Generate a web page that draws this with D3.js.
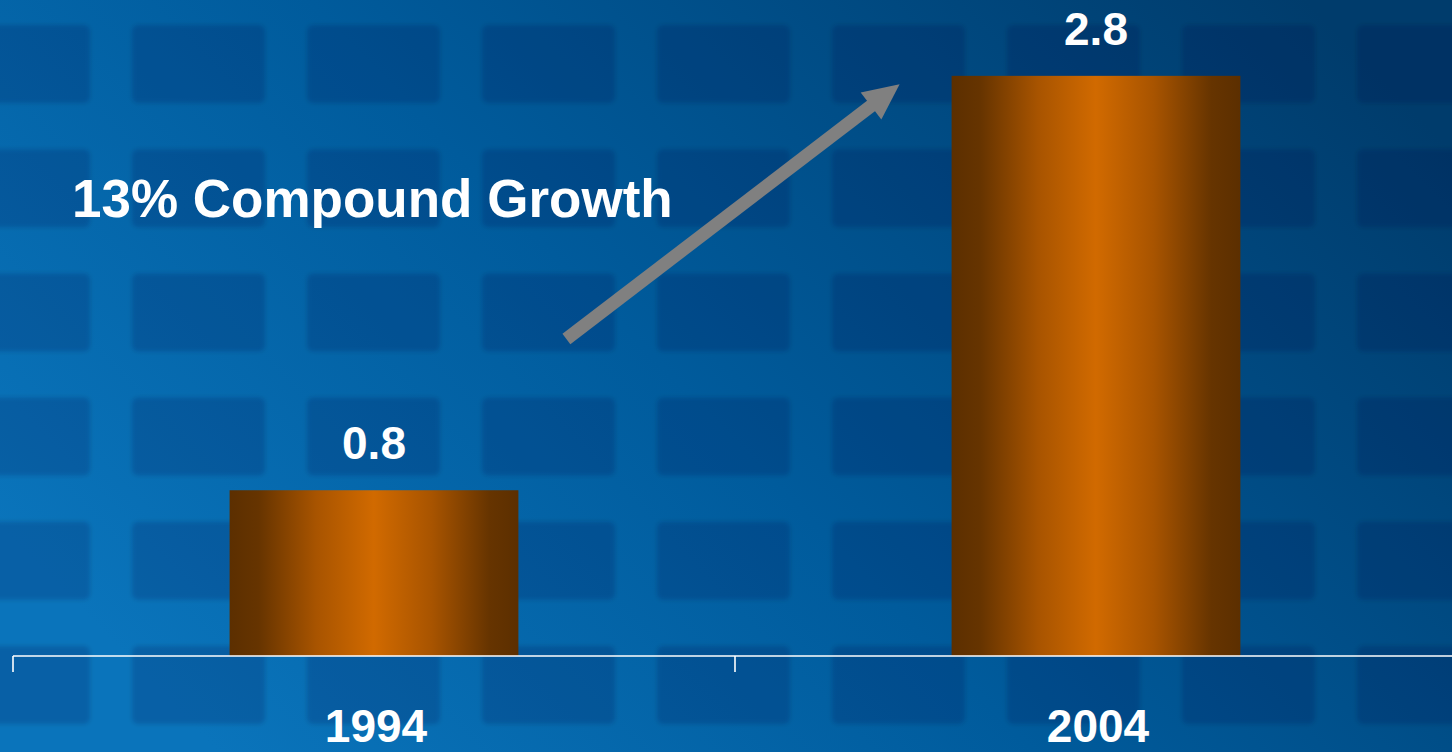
<!DOCTYPE html>
<html>
<head>
<meta charset="utf-8">
<script src="https://cdn.jsdelivr.net/npm/d3@7"></script>
<style>
  html, body { margin: 0; padding: 0; overflow: hidden; background: #004a85; }
  svg { display: block; font-family: "Liberation Sans", Arial, sans-serif; }
</style>
</head>
<body>
<div id="chart"></div>
<script>
const years = ["1994", "2004"];
const values = [0.8, 2.8];
const growthLabel = "13% Compound Growth";

const width = 1452;
const height = 752;

const svg = d3.select("#chart").append("svg").attr("width", width).attr("height", height);
const defs = svg.append("defs");

// blue backdrop, lighter at the left
const bg = defs.append("linearGradient").attr("id", "bg").attr("x1", 0).attr("y1", 0.7).attr("x2", 1).attr("y2", 0.2);
bg.append("stop").attr("offset", 0).attr("stop-color", "#0a74bb");
bg.append("stop").attr("offset", 0.45).attr("stop-color", "#005b9c");
bg.append("stop").attr("offset", 1).attr("stop-color", "#003c6c");

const barGrad = defs.append("linearGradient").attr("id", "bar").attr("x1", 0).attr("x2", 1).attr("y1", 0).attr("y2", 0);
[
  [0, "#5c2f00"],
  [0.1, "#663400"],
  [0.3, "#a85400"],
  [0.5, "#d16a00"],
  [0.7, "#a85400"],
  [0.9, "#663400"],
  [1, "#5c2f00"],
].forEach(([o, c]) => barGrad.append("stop").attr("offset", o).attr("stop-color", c));

defs.append("filter").attr("id", "soft").append("feGaussianBlur").attr("stdDeviation", 2);

svg.append("rect").attr("width", width).attr("height", height).attr("fill", "url(#bg)");

// tiled pattern behind the chart
const tileCols = d3.range(-43, width, 175);
const tileRows = d3.range(25, height, 124.2);
svg
  .append("g")
  .attr("filter", "url(#soft)")
  .selectAll("rect")
  .data(d3.cross(tileCols, tileRows))
  .join("rect")
  .attr("x", (d) => d[0])
  .attr("y", (d) => d[1])
  .attr("width", 133)
  .attr("height", 78)
  .attr("rx", 6)
  .attr("fill", "#001a40")
  .attr("fill-opacity", 0.17);

const x = d3.scaleBand().domain(years).range([13, 1457]).paddingInner(0.6).paddingOuter(0.3);
const y = d3.scaleLinear().domain([0, 3]).range([656, 34.4]);

const data = years.map((year, i) => ({ year, value: values[i] }));

svg
  .append("g")
  .selectAll("rect")
  .data(data)
  .join("rect")
  .attr("x", (d) => x(d.year))
  .attr("y", (d) => y(d.value))
  .attr("width", x.bandwidth())
  .attr("height", (d) => y(0) - y(d.value))
  .attr("fill", "url(#bar)");

svg
  .append("g")
  .selectAll("text")
  .data(data)
  .join("text")
  .attr("x", (d) => x(d.year) + x.bandwidth() / 2)
  .attr("y", (d) => y(d.value) - 31)
  .attr("text-anchor", "middle")
  .attr("fill", "#ffffff")
  .attr("font-size", 46)
  .attr("font-weight", "bold")
  .text((d) => d.value.toFixed(1));

// axis with ticks at the category boundaries
const axis = svg.append("g").attr("stroke", "#ffffff").attr("stroke-width", 1.6);
axis.append("line").attr("x1", x.range()[0]).attr("x2", x.range()[1]).attr("y1", y(0)).attr("y2", y(0));
const edges = years.map((d) => x(d) - (x.step() * x.paddingInner()) / 2).concat([x.range()[1]]);
axis
  .selectAll("line.tick")
  .data(edges)
  .join("line")
  .attr("class", "tick")
  .attr("x1", (d) => d)
  .attr("x2", (d) => d)
  .attr("y1", y(0))
  .attr("y2", y(0) + 16);

svg
  .append("g")
  .selectAll("text")
  .data(years)
  .join("text")
  .attr("x", (d) => x(d) + x.bandwidth() / 2 + 2)
  .attr("y", 742)
  .attr("text-anchor", "middle")
  .attr("fill", "#ffffff")
  .attr("font-size", 46)
  .attr("font-weight", "bold")
  .text((d) => d);

// growth arrow
const start = [x(years[0]) + x.bandwidth() + 48, y(1.53)];
const end = [x(years[1]) - 52, y(2.76)];
const ang = Math.atan2(end[1] - start[1], end[0] - start[0]);
const headLen = 36;
const headHalf = 17;
const neck = [end[0] - headLen * Math.cos(ang), end[1] - headLen * Math.sin(ang)];
const px = -Math.sin(ang);
const py = Math.cos(ang);

svg
  .append("line")
  .attr("x1", start[0])
  .attr("y1", start[1])
  .attr("x2", neck[0] + 2 * Math.cos(ang))
  .attr("y2", neck[1] + 2 * Math.sin(ang))
  .attr("stroke", "#808080")
  .attr("stroke-width", 13);

svg
  .append("path")
  .attr(
    "d",
    d3.line()([
      end,
      [neck[0] + px * headHalf, neck[1] + py * headHalf],
      [neck[0] - px * headHalf, neck[1] - py * headHalf],
    ]) + "Z",
  )
  .attr("fill", "#808080");

svg
  .append("text")
  .attr("x", 72)
  .attr("y", 217)
  .attr("fill", "#ffffff")
  .attr("font-size", 53)
  .attr("font-weight", "bold")
  .text(growthLabel);
</script>
</body>
</html>
